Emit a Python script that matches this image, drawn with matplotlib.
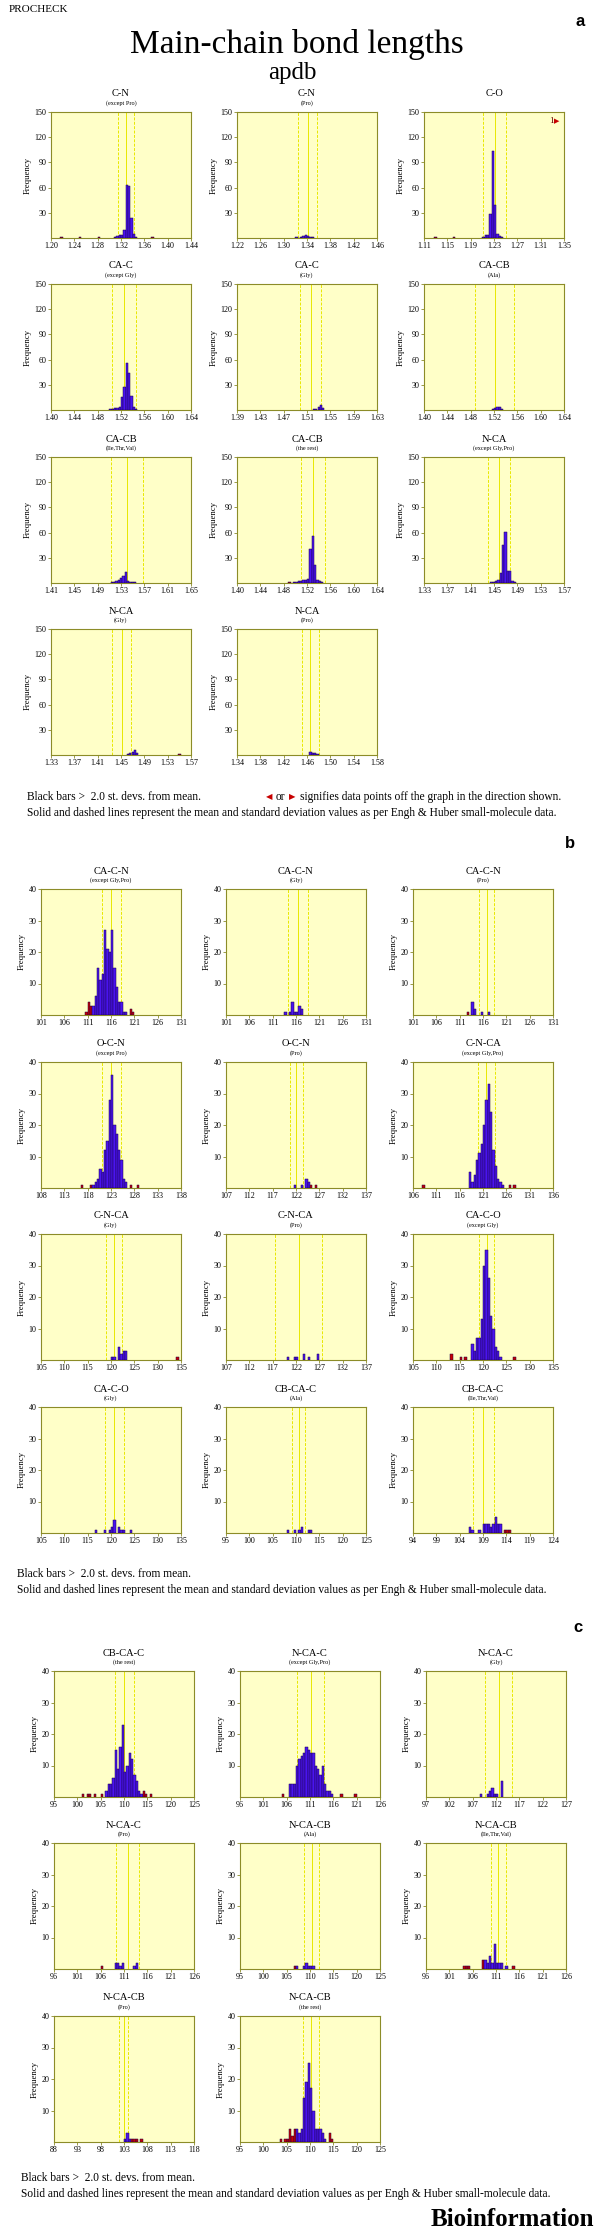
import matplotlib
matplotlib.use("Agg")
import matplotlib.pyplot as plt

W, H = 599, 2235
SERIF = ["Liberation Serif", "DejaVu Serif"]
plt.rcParams["font.family"] = SERIF

# ---------------- a: main-chain bond lengths ----------------
a_titles = ["C-N", "C-N", "C-O", "CA-C", "CA-C", "CA-CB", "CA-CB", "CA-CB",
            "N-CA", "N-CA", "N-CA"]
a_subtitles = ["(except Pro)", "(Pro)", "", "(except Gly)", "(Gly)", "(Ala)",
               "(Ile,Thr,Val)", "(the rest)", "(except Gly,Pro)", "(Gly)", "(Pro)"]
a_xmin = [1.20, 1.22, 1.11, 1.40, 1.39, 1.40, 1.41, 1.40, 1.33, 1.33, 1.34]
a_mean = [1.329, 1.341, 1.231, 1.525, 1.516, 1.521, 1.540, 1.530, 1.458, 1.451, 1.466]
a_sd = [0.014, 0.016, 0.020, 0.021, 0.018, 0.033, 0.027, 0.020, 0.019, 0.016, 0.015]
a_centers = [
    [1.218, 1.250, 1.282, 1.310, 1.314, 1.318, 1.322, 1.326, 1.330, 1.334, 1.338, 1.342, 1.346, 1.374],
    [1.322, 1.330, 1.334, 1.338, 1.342, 1.346, 1.350],
    [1.130, 1.162, 1.212, 1.216, 1.220, 1.224, 1.228, 1.232, 1.236, 1.240, 1.244],
    [1.502, 1.506, 1.510, 1.514, 1.518, 1.522, 1.526, 1.530, 1.534, 1.538, 1.542, 1.546],
    [1.522, 1.526, 1.530, 1.534, 1.538],
    [1.518, 1.522, 1.526, 1.530, 1.534],
    [1.514, 1.518, 1.522, 1.526, 1.530, 1.534, 1.538, 1.542, 1.546, 1.550, 1.554],
    [1.490, 1.498, 1.502, 1.506, 1.510, 1.514, 1.518, 1.522, 1.526, 1.530, 1.534, 1.538, 1.542, 1.546],
    [1.446, 1.450, 1.454, 1.458, 1.462, 1.466, 1.470, 1.474, 1.478, 1.482, 1.486],
    [1.462, 1.466, 1.470, 1.474, 1.478, 1.550],
    [1.466, 1.470, 1.474, 1.478],
]
a_counts = [
    [1, 1, 1, 1, 2, 3, 4, 10, 63, 62, 24, 5, 1, 1],
    [1, 1, 2, 3, 2, 1, 1],
    [1, 1, 1, 3, 4, 29, 103, 39, 5, 2, 1],
    [1, 1, 2, 2, 3, 16, 27, 56, 44, 17, 4, 1],
    [1, 1, 3, 6, 2],
    [1, 2, 4, 3, 1],
    [1, 1, 2, 3, 6, 8, 13, 2, 1, 1, 1],
    [1, 1, 1, 2, 2, 3, 4, 5, 40, 56, 21, 4, 2, 1],
    [1, 1, 2, 3, 12, 45, 61, 14, 14, 2, 1],
    [1, 2, 3, 6, 2, 1],
    [4, 2, 2, 1],
]
a_off_right = [0, 0, 1, 0, 0, 0, 0, 0, 0, 0, 0]

# ---------------- b: main-chain bond angles ----------------
b_titles = ["CA-C-N", "CA-C-N", "CA-C-N", "O-C-N", "O-C-N", "C-N-CA", "C-N-CA",
            "C-N-CA", "CA-C-O", "CA-C-O", "CB-CA-C", "CB-CA-C"]
b_subtitles = ["(except Gly,Pro)", "(Gly)", "(Pro)", "(except Pro)", "(Pro)",
               "(except Gly,Pro)", "(Gly)", "(Pro)", "(except Gly)", "(Gly)", "(Ala)",
               "(Ile,Thr,Val)"]
b_xmin = [101, 101, 101, 108, 107, 106, 105, 107, 105, 105, 95, 94]
b_mean = [116.1, 116.4, 116.8, 123.1, 122.1, 121.7, 120.6, 122.6, 120.8, 120.7, 110.6, 109.1]
b_sd = [2.0, 2.1, 1.6, 2.0, 1.4, 1.8, 1.7, 5.0, 1.6, 2.0, 1.4, 2.2]
b_centers = [
    [110.75, 111.25, 111.75, 112.25, 112.75, 113.25, 113.75, 114.25, 114.75, 115.25, 115.75,
     116.25, 116.75, 117.25, 117.75, 118.25, 118.75, 119.25, 120.25, 120.75],
    [113.75, 114.75, 115.25, 115.75, 116.25, 116.75, 117.25],
    [112.75, 113.75, 114.25, 115.75, 117.25],
    [116.75, 118.75, 119.25, 119.75, 120.25, 120.75, 121.25, 121.75, 122.25, 122.75, 123.25,
     123.75, 124.25, 124.75, 125.25, 125.75, 126.25, 127.25, 128.75],
    [121.75, 123.25, 124.25, 124.75, 125.25, 126.25],
    [108.25, 118.25, 118.75, 119.25, 119.75, 120.25, 120.75, 121.25, 121.75, 122.25, 122.75,
     123.25, 123.75, 124.25, 124.75, 125.25, 126.75, 127.75],
    [120.25, 120.75, 121.75, 122.25, 122.75, 123.25, 134.25],
    [120.25, 121.75, 122.25, 123.75, 124.75, 126.75],
    [113.25, 115.25, 116.25, 117.75, 118.25, 118.75, 119.25, 119.75, 120.25, 120.75, 121.25,
     121.75, 122.25, 122.75, 123.25, 123.75, 126.75],
    [116.75, 118.75, 119.75, 120.25, 120.75, 121.75, 122.25, 122.75, 124.25],
    [108.25, 109.75, 110.75, 111.25, 112.75, 113.25],
    [106.25, 106.75, 108.25, 109.25, 109.75, 110.25, 110.75, 111.25, 111.75, 112.25, 112.75,
     113.75, 114.25, 114.75],
]
b_counts = [
    [1, 4, 3, 3, 6, 15, 11, 13, 27, 21, 20, 27, 15, 9, 4, 4, 1, 1, 2, 1],
    [1, 1, 4, 1, 1, 3, 2],
    [1, 4, 2, 1, 1],
    [1, 1, 1, 2, 3, 6, 5, 12, 15, 28, 36, 20, 17, 12, 9, 3, 2, 1, 1],
    [1, 1, 3, 2, 1, 1],
    [1, 5, 2, 4, 9, 11, 14, 20, 28, 33, 24, 12, 7, 3, 2, 1, 1, 1],
    [1, 1, 4, 2, 3, 3, 1],
    [1, 1, 1, 2, 1, 2],
    [2, 1, 1, 5, 3, 7, 7, 13, 30, 35, 26, 14, 10, 4, 3, 1, 1],
    [1, 1, 1, 2, 4, 2, 1, 1, 1],
    [1, 1, 1, 2, 1, 1],
    [2, 1, 1, 3, 3, 3, 2, 3, 5, 3, 3, 1, 1, 1],
]

# ---------------- c: main-chain bond angles (cont.) ----------------
c_titles = ["CB-CA-C", "N-CA-C", "N-CA-C", "N-CA-C", "N-CA-CB", "N-CA-CB",
            "N-CA-CB", "N-CA-CB"]
c_subtitles = ["(the rest)", "(except Gly,Pro)", "(Gly)", "(Pro)", "(Ala)",
               "(Ile,Thr,Val)", "(Pro)", "(the rest)"]
c_xmin = [95, 96, 97, 96, 95, 96, 88, 95]
c_mean = [110.1, 111.2, 112.6, 111.8, 110.4, 111.5, 102.9, 110.3]
c_sd = [2.0, 2.9, 2.9, 2.5, 1.6, 1.6, 0.9, 1.7]
c_centers = [
    [101.25, 102.25, 102.75, 103.75, 105.25, 106.25, 106.75, 107.25, 107.75, 108.25, 108.75,
     109.25, 109.75, 110.25, 110.75, 111.25, 111.75, 112.25, 112.75, 113.25, 113.75, 114.25,
     114.75, 115.75],
    [105.25, 106.75, 107.25, 107.75, 108.25, 108.75, 109.25, 109.75, 110.25, 110.75, 111.25,
     111.75, 112.25, 112.75, 113.25, 113.75, 114.25, 114.75, 115.25, 115.75, 117.75, 120.75],
    [108.75, 110.25, 110.75, 111.25, 111.75, 112.25, 113.25],
    [106.25, 109.25, 109.75, 110.25, 110.75, 113.25, 113.75],
    [106.75, 107.25, 108.75, 109.25, 109.75, 110.25, 110.75],
    [104.25, 104.75, 105.25, 108.25, 108.75, 109.25, 109.75, 110.25, 110.75, 111.25, 111.75,
     112.25, 113.25, 114.75],
    [103.25, 103.75, 104.25, 104.75, 105.25, 105.75, 106.75],
    [103.75, 104.75, 105.25, 105.75, 106.25, 106.75, 107.25, 107.75, 108.25, 108.75, 109.25,
     109.75, 110.25, 110.75, 111.25, 111.75, 112.25, 112.75, 113.25, 114.25, 114.75],
]
c_counts = [
    [1, 1, 1, 1, 1, 2, 4, 4, 6, 15, 9, 16, 23, 8, 10, 14, 12, 7, 5, 2, 1, 2, 1, 1],
    [1, 4, 4, 4, 10, 12, 13, 14, 16, 15, 14, 14, 10, 9, 7, 10, 4, 2, 2, 1, 1, 1],
    [1, 1, 2, 3, 1, 1, 5],
    [1, 2, 2, 1, 2, 1, 2],
    [1, 1, 1, 2, 1, 1, 1],
    [1, 1, 1, 3, 3, 2, 4, 2, 8, 2, 2, 2, 1, 1],
    [1, 3, 1, 1, 1, 1, 1],
    [1, 1, 1, 4, 2, 4, 4, 3, 4, 14, 19, 25, 17, 10, 4, 4, 4, 3, 1, 3, 1],
]

FOOT1 = "Black bars >  2.0 st. devs. from mean."
FOOT2 = ("Solid and dashed lines represent the mean and standard deviation values "
         "as per Engh & Huber small-molecule data.")

AW, AH = 140, 126
BG = "#ffffc8"
FRAME = "#8c8c28"
VLINE = "#e8e800"
BLUE = "#4a14f0"
RED = "#c80000"
EDGE = "#1c0048"
FS_FOOT = 8.3

fig = plt.figure(figsize=(W / 100, H / 100), dpi=100)


def px(x, y):
    return x / W, 1 - y / H


def panel(left, top, title, sub, xmin, span, ymax, mean, sd, centers, counts,
          binw, fmt, off_right=0):
    ax = fig.add_axes([left / W, 1 - (top + AH) / H, AW / W, AH / H])
    ax.set_facecolor(BG)
    xmax = xmin + span
    ax.set_xlim(xmin, xmax)
    ax.set_ylim(0, ymax)
    for v, ls in [(mean - sd, (0, (3, 1.5))), (mean, "-"), (mean + sd, (0, (3, 1.5)))]:
        ax.axvline(v, color=VLINE, lw=0.7, ls=ls, zorder=1)
    cols = [RED if abs(c - mean) > 2 * sd else BLUE for c in centers]
    ax.bar(centers, counts, width=binw, color=cols, edgecolor=EDGE,
           linewidth=0.35, zorder=3)
    ax.set_xticks([xmin + span * k / 6 for k in range(7)])
    ax.set_xticklabels([fmt.format(xmin + span * k / 6) for k in range(7)])
    ax.set_yticks([ymax * k / 4 for k in range(1, 5)] if ymax == 40 else
                  [ymax * k / 5 for k in range(1, 6)])
    ax.yaxis.set_major_formatter(plt.FormatStrFormatter("%d"))
    for s in ax.spines.values():
        s.set_color(FRAME)
        s.set_linewidth(0.8)
    ax.tick_params(direction="out", length=2, width=0.6, color=FRAME,
                   labelsize=5.8, pad=1.2)
    ax.set_ylabel("Frequency", fontsize=6.3, labelpad=2)
    ax.text(0.5, 1 + 18 / AH, title, transform=ax.transAxes, ha="center",
            va="center", fontsize=7.5)
    if sub:
        ax.text(0.5, 1 + 9 / AH, sub, transform=ax.transAxes, ha="center",
                va="center", fontsize=4.5)
    if off_right:
        ax.text(0.925, 0.93, str(off_right), transform=ax.transAxes, ha="right",
                va="center", fontsize=6.5, color="#600000")
        ax.text(0.93, 0.93, "\u25b6", transform=ax.transAxes, ha="left",
                va="center", fontsize=5, color=RED, family=["DejaVu Sans"])
    return ax


def section(lefts, tops, titles, subs, xmins, span, ymax, means, sds, centers,
            counts, binw, fmt, offs=None):
    for i in range(len(titles)):
        r, c = divmod(i, 3)
        panel(lefts[c], tops[r], titles[i], subs[i], xmins[i], span, ymax,
              means[i], sds[i], centers[i], counts[i], binw, fmt,
              offs[i] if offs else 0)


section([51, 237, 424], [112, 284, 457, 629], a_titles, a_subtitles, a_xmin, 0.24,
        150, a_mean, a_sd, a_centers, a_counts, 0.004, "{:.2f}", a_off_right)
section([41, 226, 413], [889, 1062, 1234, 1407], b_titles, b_subtitles, b_xmin, 30,
        40, b_mean, b_sd, b_centers, b_counts, 0.5, "{:.0f}")
section([54, 240, 426], [1671, 1843, 2016], c_titles, c_subtitles, c_xmin, 30,
        40, c_mean, c_sd, c_centers, c_counts, 0.5, "{:.0f}")

# headings
fig.text(*px(9, 9), "PROCHECK", fontsize=8, va="center", ha="left")
fig.text(*px(297, 44), "Main-chain bond lengths", fontsize=24, va="center", ha="center")
fig.text(*px(292, 73), "apdb", fontsize=18, va="center", ha="center")
for lab, x, y in [("a", 580, 22), ("b", 570, 843), ("c", 578, 1627)]:
    fig.text(*px(x, y), lab, fontsize=12, weight="bold", va="center", ha="center",
             family=["Liberation Sans", "DejaVu Sans"])

# footnotes
fig.text(*px(27, 797), FOOT1, fontsize=FS_FOOT, va="center")
fig.text(*px(266, 797), "\u25c0", fontsize=6, va="center", color=RED,
         family=["DejaVu Sans"])
fig.text(*px(276, 797), "or", fontsize=FS_FOOT, va="center")
fig.text(*px(289, 797), "\u25b6", fontsize=6, va="center", color=RED,
         family=["DejaVu Sans"])
fig.text(*px(300, 797), "signifies data points off the graph in the direction shown.",
         fontsize=FS_FOOT, va="center")
fig.text(*px(27, 813), FOOT2, fontsize=FS_FOOT, va="center")
fig.text(*px(17, 1574), FOOT1, fontsize=FS_FOOT, va="center")
fig.text(*px(17, 1590), FOOT2, fontsize=FS_FOOT, va="center")
fig.text(*px(21, 2178), FOOT1, fontsize=FS_FOOT, va="center")
fig.text(*px(21, 2194), FOOT2, fontsize=FS_FOOT, va="center")

fig.text(*px(594, 2220), "Bioinformation", fontsize=18, weight="bold", va="center",
         ha="right")

fig.savefig("out.png", dpi=100)
